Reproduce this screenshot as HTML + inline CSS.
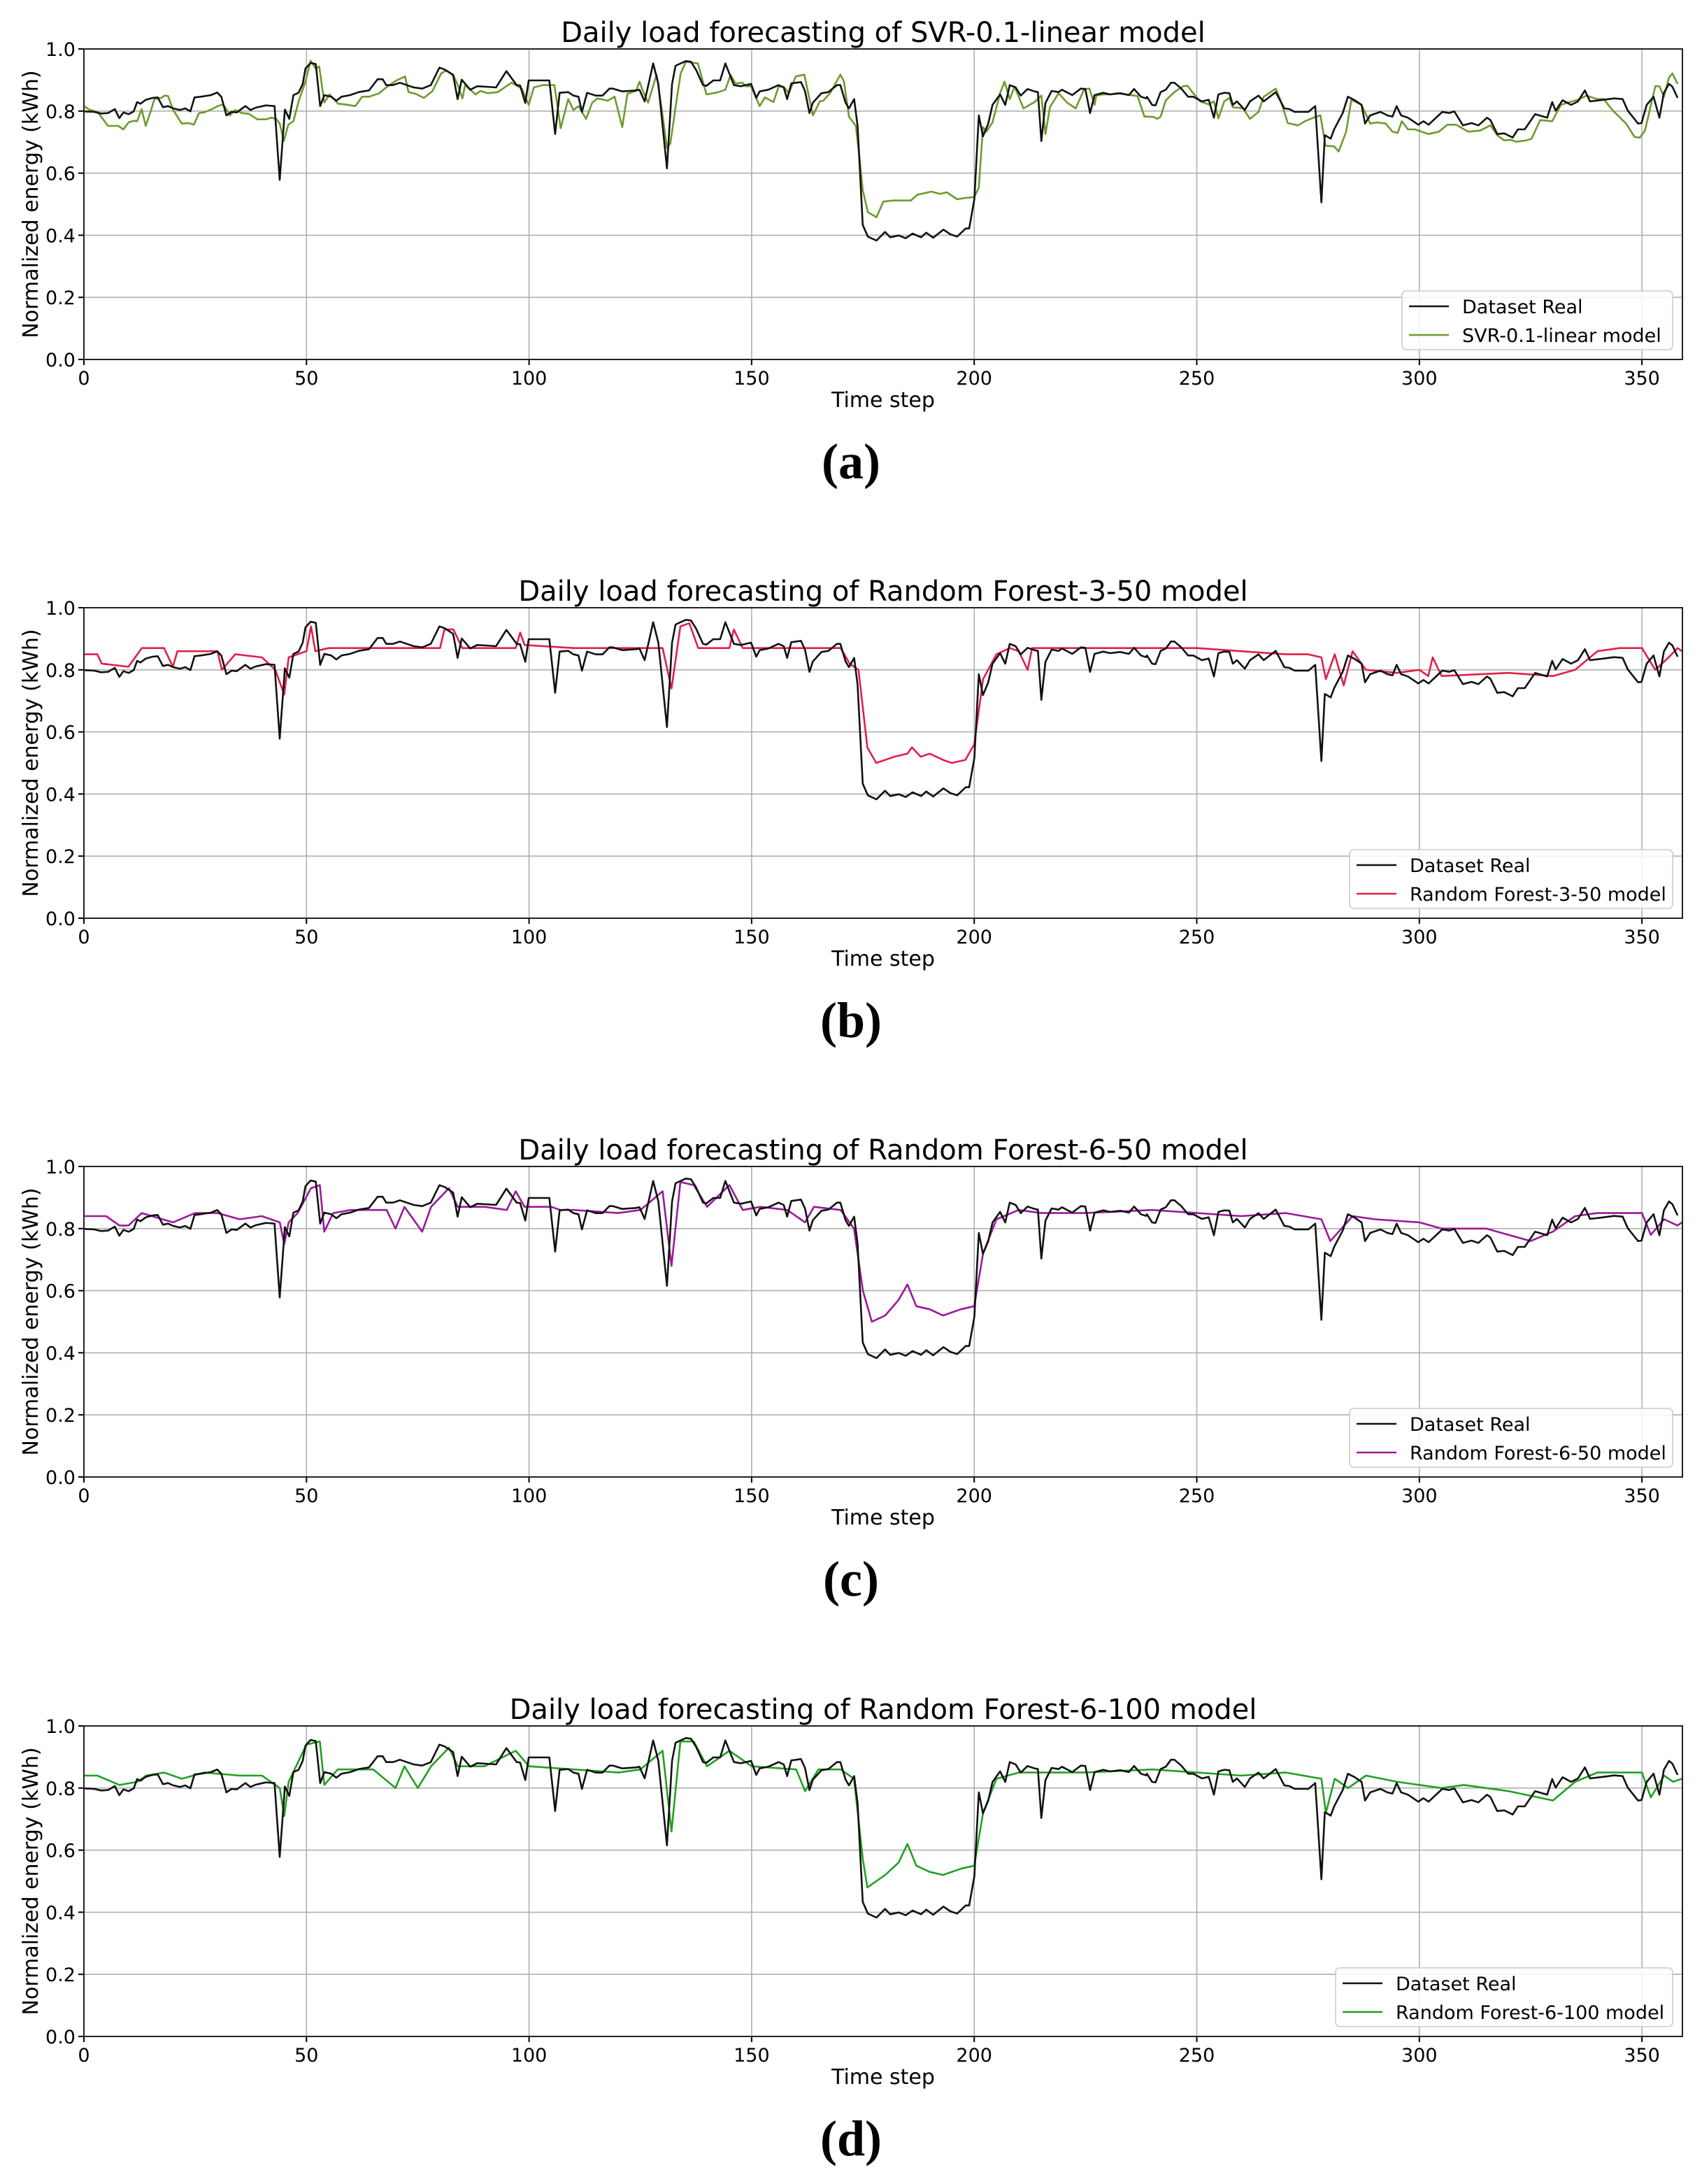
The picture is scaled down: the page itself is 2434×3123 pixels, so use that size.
<!DOCTYPE html>
<html><head><meta charset="utf-8"><style>
html,body{margin:0;padding:0;background:#fff;}
svg{display:block;}
</style></head><body>
<svg id="s" width="2434" height="3123" xmlns="http://www.w3.org/2000/svg" font-family="'DejaVu Sans','Liberation Sans',sans-serif"></svg>
<script>
function Z(pairs,off){const a=[];for(let i=0;i<pairs.length;i+=2){a.push([off+pairs[i]/12.96,1-pairs[i+1]/1332]);}return a;}
const realA=Z([0,268,30,270,50,277,70,275,90,258,103,297,115,272,130,280,145,268,155,228,165,235,180,218,200,210,215,208,230,250,245,245,260,255,280,262,295,255,310,268,322,208,340,205,370,198,388,187,400,205,415,285,430,270,445,272,470,245,485,262,500,252,530,242,555,245,570,562,585,260,598,300,610,198,625,188,637,150,645,85,660,60,675,65,688,245,700,198,720,205,735,222,750,205,775,198,800,185,830,178,855,130,870,130,880,155,900,155,920,145,940,155,960,165,985,170,1010,155,1035,80,1050,88,1075,112,1088,215,1100,132,1125,175,1145,160,1170,162,1200,165,1230,95,1260,155,1270,157,1285,232,1295,135,1355,135,1372,365,1385,188,1410,185,1425,200,1440,205,1450,270,1465,188,1490,200,1510,200,1530,170,1540,170],0);
const realB=Z([20,182,60,178,70,175,85,225,110,62,125,150,150,512,165,150,175,72,205,52,220,55,235,90,255,155,265,158,285,135,305,135,320,62,345,155,365,160,395,150,410,210,420,182,445,175,475,155,490,165,500,215,512,148,540,142,552,180,565,275,575,230,600,190,620,185,645,155,655,155,670,230,680,255,695,215,705,330,720,755,735,805,760,822,785,785,800,808,825,800,845,812,865,792,890,808,905,788,925,810,955,775,975,795,995,805,1020,770,1030,770,1045,645,1058,285,1070,375,1085,322,1098,240,1120,195,1135,240,1148,155,1165,165,1180,200,1200,172,1220,182,1230,185,1240,395,1252,232,1270,180,1290,185,1300,175,1330,198,1355,170,1368,172,1382,275,1395,198,1420,188,1440,195,1470,190,1495,198,1510,172,1530,205,1545,212],119.4);
const realC=Z([0,205,15,240,25,242,40,185,55,175,70,145,80,145,100,170,120,205,135,205,160,225,180,218,195,295,208,195,225,188,240,190,250,240,262,225,285,262,300,225,325,200,340,225,375,185,400,255,415,258,430,270,470,270,490,245,508,658,518,370,535,385,545,345,570,275,585,205,605,220,625,240,635,320,650,285,680,270,700,285,715,290,727,245,740,285,760,295,790,325,805,310,820,325,860,270,880,275,895,268,920,328,945,318,965,328,990,295,1000,305,1020,365,1040,362,1065,380,1080,345,1100,345,1130,280,1165,295,1180,228,1190,265,1210,220,1235,240,1255,225,1275,178,1290,225,1330,218,1360,212,1385,215,1400,265,1430,320,1440,318,1455,240,1475,205,1492,295,1505,188,1520,150,1530,162,1545,210],238.8);
const real=[...realA,...realB,...realC];
const svrA=Z([0,245,15,260,40,270,70,330,100,330,115,345,130,315,145,308,155,310,168,258,180,330,195,265,205,215,225,210,235,200,245,202,260,262,285,320,305,318,320,325,335,275,350,272,370,260,390,245,405,238,420,270,425,285,440,262,460,275,480,278,505,302,530,302,545,295,560,300,570,320,582,395,595,325,610,310,625,225,645,140,660,50,675,85,685,75,700,230,715,195,740,235,760,238,790,245,810,205,830,205,860,190,880,165,910,135,935,118,945,185,965,192,990,210,1015,180,1040,105,1055,92,1075,110,1090,160,1102,212,1110,155,1140,195,1155,180,1175,190,1205,185,1245,145,1275,170,1295,240,1310,165,1335,155,1370,155,1388,340,1410,215,1425,262,1440,245,1462,300,1480,230,1495,212,1525,222,1545,205],0);
const svrB=Z([20,335,35,192,60,180,70,140,80,180,95,230,120,110,135,260,150,425,160,405,175,250,190,105,205,55,240,62,265,195,300,185,320,175,335,112,350,148,370,145,380,160,395,160,420,245,435,208,460,228,475,162,490,162,505,190,525,118,550,110,575,285,595,225,605,222,625,190,655,110,665,138,680,290,700,330,710,460,720,605,735,700,760,722,780,655,810,650,860,650,880,625,920,612,945,622,965,615,995,645,1015,640,1045,635,1058,595,1070,335,1080,355,1098,315,1120,190,1133,140,1148,215,1162,162,1188,255,1220,228,1240,200,1252,365,1265,250,1290,190,1315,230,1340,255,1365,172,1380,170,1395,240,1400,200,1420,195,1440,195,1460,190,1520,202,1540,290],119.4);
const svrC=Z([0,290,20,292,30,300,40,290,55,220,80,185,105,160,118,158,135,190,155,225,180,238,195,225,208,298,225,225,240,210,250,250,280,255,300,300,325,270,340,205,375,170,390,225,410,318,440,328,460,310,490,292,505,285,520,415,545,418,558,440,580,355,595,218,625,240,650,320,670,315,695,320,715,355,730,360,742,310,760,345,780,345,820,365,850,355,875,325,900,325,935,355,970,350,1000,328,1020,370,1040,392,1060,390,1075,398,1105,392,1120,385,1145,305,1180,310,1205,240,1230,228,1255,218,1280,200,1310,215,1330,215,1355,262,1395,320,1420,378,1435,380,1450,350,1480,160,1492,160,1505,205,1520,122,1530,105,1545,150],238.8);
const svr=[...svrA,...svrB,...svrC];
function K(a){const r=[];for(let i=0;i<a.length;i+=2)r.push([a[i],a[i+1]]);return r;}
const rf350=K([0,0.85,3,0.85,4,0.82,10,0.81,13,0.87,18,0.87,20,0.81,21,0.86,30,0.86,31,0.80,34,0.85,40,0.84,43,0.80,45,0.72,46,0.84,50,0.86,51,0.94,52,0.86,55,0.87,80,0.87,81,0.93,83,0.93,85,0.87,97,0.87,98,0.92,99,0.88,110,0.87,130,0.87,132,0.74,134,0.94,136,0.95,138,0.87,145,0.87,146,0.93,148,0.87,170,0.87,172,0.82,174,0.80,176,0.55,178,0.50,180,0.51,182,0.52,185,0.53,186,0.55,188,0.52,190,0.53,193,0.51,195,0.50,198,0.51,200,0.56,202,0.77,205,0.85,208,0.87,210,0.86,212,0.80,213,0.87,250,0.87,260,0.86,270,0.85,275,0.85,278,0.84,279,0.77,281,0.85,283,0.75,285,0.86,288,0.80,295,0.79,300,0.80,302,0.78,303,0.84,305,0.78,320,0.79,330,0.78,335,0.80,340,0.86,345,0.87,350,0.87,353,0.80,356,0.84,358,0.87,359,0.86]);
const rf650=K([0,0.84,5,0.84,8,0.81,10,0.81,13,0.85,20,0.82,25,0.85,30,0.85,35,0.83,40,0.84,44,0.82,45,0.75,46,0.82,48,0.85,51,0.93,53,0.94,54,0.79,56,0.85,60,0.86,68,0.86,70,0.80,72,0.87,76,0.79,78,0.87,82,0.93,84,0.87,90,0.87,95,0.86,97,0.92,99,0.87,105,0.87,107,0.86,110,0.86,120,0.85,125,0.86,130,0.92,132,0.68,134,0.95,137,0.94,140,0.87,145,0.94,148,0.86,152,0.87,158,0.86,162,0.82,164,0.87,170,0.86,173,0.80,175,0.60,177,0.50,180,0.52,183,0.57,185,0.62,187,0.55,190,0.54,193,0.52,197,0.54,200,0.55,202,0.72,205,0.83,210,0.86,215,0.85,225,0.85,240,0.86,250,0.85,260,0.84,270,0.85,278,0.83,280,0.76,285,0.84,290,0.83,300,0.82,305,0.80,315,0.80,320,0.78,325,0.76,330,0.79,335,0.84,340,0.85,350,0.85,352,0.78,355,0.83,358,0.81,359,0.82]);
const rf6100=K([0,0.84,3,0.84,8,0.81,12,0.82,14,0.84,18,0.85,22,0.83,27,0.85,35,0.84,40,0.84,44,0.80,45,0.71,46,0.82,50,0.94,53,0.95,54,0.81,57,0.86,65,0.86,70,0.80,72,0.87,75,0.80,78,0.87,82,0.93,84,0.87,90,0.87,97,0.92,100,0.87,110,0.86,120,0.85,125,0.86,130,0.92,132,0.66,134,0.95,137,0.95,140,0.87,145,0.92,150,0.87,160,0.86,162,0.79,165,0.86,170,0.86,173,0.83,175,0.57,176,0.48,180,0.52,183,0.56,185,0.62,187,0.55,190,0.53,193,0.52,197,0.54,200,0.55,202,0.72,205,0.83,210,0.85,215,0.85,225,0.85,240,0.86,250,0.85,260,0.84,270,0.85,278,0.83,279,0.72,281,0.83,284,0.80,288,0.84,295,0.82,300,0.81,305,0.80,310,0.81,320,0.79,330,0.76,335,0.82,340,0.85,350,0.85,352,0.77,355,0.84,357,0.82,359,0.83]);

const panels=[
 {top:70,title:"Daily load forecasting of SVR-0.1-linear model",lab:"SVR-0.1-linear model",col:"#6f9a2e",data:svr,lx:2005,sub:"(a)"},
 {top:869,title:"Daily load forecasting of Random Forest-3-50 model",lab:"Random Forest-3-50 model",col:"#e0204a",data:rf350,lx:1930,sub:"(b)"},
 {top:1668,title:"Daily load forecasting of Random Forest-6-50 model",lab:"Random Forest-6-50 model",col:"#9a1a9a",data:rf650,lx:1930,sub:"(c)"},
 {top:2468,title:"Daily load forecasting of Random Forest-6-100 model",lab:"Random Forest-6-100 model",col:"#22a022",data:rf6100,lx:1910,sub:"(d)"}];
const L=120,R=2406,H=444,PX=6.366;
let h="";
for(const p of panels){
 const T=p.top,B=T+H;
 const X=s=>(L+s*PX).toFixed(1),Y=v=>(B-v*H).toFixed(1);
 h+=`<defs><clipPath id="c${T}"><rect x="${L}" y="${T}" width="${R-L}" height="${H}"/></clipPath></defs>`;
 for(let s=0;s<=350;s+=50){const x=X(s);h+=`<line x1="${x}" y1="${T}" x2="${x}" y2="${B}" stroke="#b0b0b0" stroke-width="1.6"/><line x1="${x}" y1="${B}" x2="${x}" y2="${B+8}" stroke="#000" stroke-width="2"/><text x="${x}" y="${B+36}" font-size="27" text-anchor="middle">${s}</text>`;}
 for(let i=0;i<=5;i++){const v=i*0.2,y=Y(v);h+=`<line x1="${L}" y1="${y}" x2="${R}" y2="${y}" stroke="#b0b0b0" stroke-width="1.6"/><line x1="${L-8}" y1="${y}" x2="${L}" y2="${y}" stroke="#000" stroke-width="2"/><text x="${L-12}" y="${(+y+10).toFixed(1)}" font-size="27" text-anchor="end">${v.toFixed(1)}</text>`;}
 const pl=d=>d.map(q=>X(q[0])+","+Y(q[1])).join(" ");
 h+=`<g clip-path="url(#c${T})"><polyline points="${pl(p.data)}" fill="none" stroke="${p.col}" stroke-width="2.6" stroke-linejoin="round"/><polyline points="${pl(real)}" fill="none" stroke="#111" stroke-width="2.6" stroke-linejoin="round"/></g>`;
 h+=`<rect x="${L}" y="${T}" width="${R-L}" height="${H}" fill="none" stroke="#222" stroke-width="2"/>`;
 h+=`<text x="${(L+R)/2}" y="${T-10}" font-size="40" text-anchor="middle">${p.title}</text>`;
 h+=`<text x="${(L+R)/2}" y="${B+68}" font-size="30" text-anchor="middle">Time step</text>`;
 h+=`<text transform="translate(54,${T+H/2}) rotate(-90)" font-size="30" text-anchor="middle">Normalized energy (kWh)</text>`;
 const lx=p.lx,ly=T+346;
 h+=`<rect x="${lx}" y="${ly}" width="${2392-lx}" height="84" rx="6" fill="#fff" fill-opacity="0.85" stroke="#ccc" stroke-width="1.6"/>`;
 h+=`<line x1="${lx+10}" y1="${ly+22}" x2="${lx+67}" y2="${ly+22}" stroke="#111" stroke-width="2.6"/><text x="${lx+86}" y="${ly+32}" font-size="27">Dataset Real</text>`;
 h+=`<line x1="${lx+10}" y1="${ly+63}" x2="${lx+67}" y2="${ly+63}" stroke="${p.col}" stroke-width="2.6"/><text x="${lx+86}" y="${ly+73}" font-size="27">${p.lab}</text>`;
 h+=`<text x="1217" y="${T+614}" font-size="72" font-weight="bold" text-anchor="middle" font-family="'Liberation Serif',serif">${p.sub}</text>`;
}
document.getElementById("s").innerHTML=h;
</script>
</body></html>
